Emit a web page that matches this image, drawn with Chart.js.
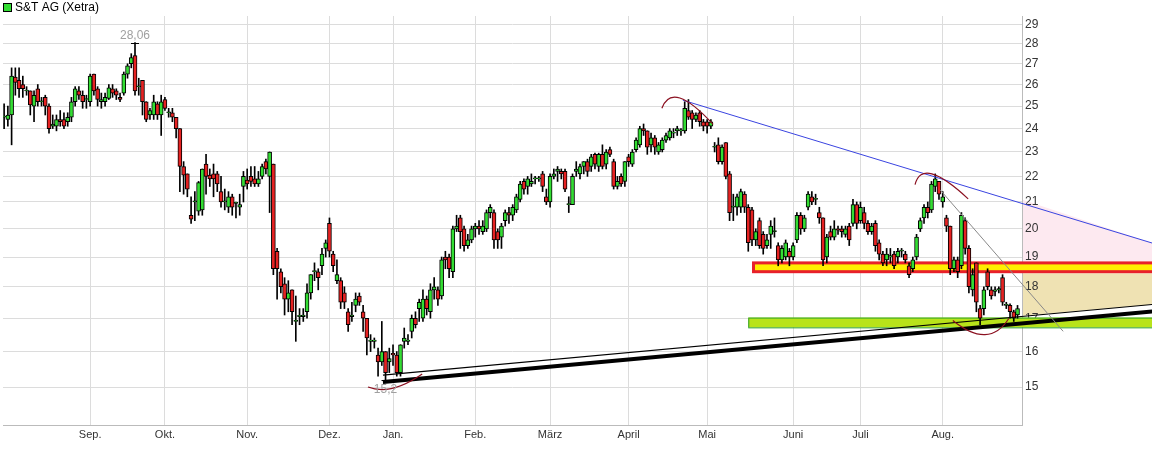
<!DOCTYPE html>
<html>
<head>
<meta charset="utf-8">
<script src="https://cdn.jsdelivr.net/npm/chart.js@4.4.1/dist/chart.umd.min.js"></script>
<style>
  html, body { margin: 0; padding: 0; background: #fff; }
  #wrap { width: 1152px; height: 462px; }
</style>
</head>
<body>
<div id="wrap"><canvas id="c"></canvas></div>
<script>
// ===== S&T AG (Xetra) daily candles =====

const opens = [
24.5,24.4,24.6,26.35,26.2,26.0,25.7,25.7,25.0,25.8,25.2,25.4,25.0,24.1,24.1,24.4,24.4,24.3,24.5,25.2,
25.7,25.5,25.3,25.2,26.5,25.8,25.2,25.2,25.35,25.8,25.7,25.4,25.6,26.5,27.0,27.4,25.9,26.2,25.2,24.6,
24.6,25.1,24.6,25.3,24.7,24.7,24.5,24.0,22.4,22.1,20.5,21.0,20.65,20.7,22.5,22.05,22.1,22.1,21.4,21.0,
20.8,21.2,20.95,20.8,21.6,21.85,22.0,21.9,21.7,22.0,22.6,22.0,22.5,19.2,18.5,18.1,17.6,17.9,16.9,17.05,
17.05,17.2,17.8,18.5,18.5,18.7,19.3,20.2,19.1,18.2,18.2,17.8,17.2,17.05,17.4,17.7,17.2,17.0,16.3,16.3,
15.9,15.7,16.0,15.7,15.95,15.9,15.4,16.3,16.3,16.6,17.0,17.3,17.0,17.6,17.2,17.9,17.9,17.7,19.0,19.0,
18.5,20.0,20.4,20.0,19.4,19.6,20.0,20.1,19.9,20.0,20.6,20.6,19.9,19.7,20.3,20.6,20.5,20.7,21.1,21.8,
21.6,21.7,21.9,21.9,22.1,21.2,21.0,22.0,22.2,22.2,22.2,20.9,20.9,22.2,22.1,22.4,22.6,22.4,22.9,22.4,
22.9,22.5,23.1,22.6,21.6,22.0,21.8,22.8,22.5,23.1,23.3,24.0,23.9,23.3,23.6,23.0,23.1,23.5,23.6,23.8,
23.9,23.9,23.9,24.8,24.7,24.4,24.7,24.3,24.3,24.1,23.2,23.3,22.6,23.4,22.1,20.8,20.8,20.8,21.3,20.8,
20.7,19.6,20.3,19.8,19.4,19.8,19.9,19.4,18.9,19.0,19.2,19.0,19.6,20.5,20.0,20.8,21.2,21.1,20.6,20.4,
19.0,19.9,19.7,20.0,20.0,19.8,20.1,20.2,20.9,20.3,20.6,20.2,19.9,20.2,19.5,19.1,18.9,19.0,19.1,19.0,
19.2,19.1,18.7,18.6,19.0,20.0,20.4,20.8,20.7,21.6,21.8,21.0,20.4,20.1,18.6,18.9,18.7,20.3,19.3,17.9,
18.8,17.3,17.3,18.5,17.9,17.85,17.9,18.3,17.4,17.4,17.2,17.1
];
const closes = [
24.5,24.6,26.4,26.1,25.8,25.8,25.7,25.05,25.5,25.2,25.2,25.0,24.0,24.2,24.4,24.3,24.1,24.5,25.2,25.8,
25.5,25.2,25.3,26.4,25.7,25.3,25.3,25.4,25.85,25.6,25.5,25.3,26.5,26.9,27.3,25.7,25.9,25.2,24.4,24.8,
25.2,24.6,25.2,24.9,24.7,24.5,24.0,22.4,22.05,21.5,20.35,21.0,21.75,22.3,22.0,21.9,21.9,21.7,21.0,21.0,
21.2,20.8,20.95,20.9,22.0,21.7,21.8,21.7,21.9,22.4,22.3,23.0,18.6,18.6,18.0,17.6,17.8,17.2,16.9,17.05,
17.1,17.8,18.4,18.5,18.3,19.1,19.5,19.2,18.7,18.4,17.5,17.5,16.8,17.1,17.6,17.5,17.0,16.4,16.3,16.3,
15.7,16.0,15.4,15.8,15.9,15.4,16.2,16.4,16.3,17.0,16.8,17.5,17.6,17.3,17.9,18.0,17.6,18.9,18.9,18.6,
20.0,20.1,19.9,19.4,19.6,20.0,20.1,20.0,20.1,20.6,20.8,19.6,19.6,20.1,20.6,20.5,20.8,21.2,21.7,21.5,
21.9,21.8,21.9,21.9,21.6,21.0,22.0,22.1,22.3,22.1,21.5,20.9,22.0,22.3,22.4,22.6,22.2,22.8,22.5,22.9,
22.4,23.0,22.9,21.6,21.8,21.7,22.6,22.6,23.0,23.5,24.0,23.9,23.2,23.6,23.2,23.3,23.5,23.7,23.9,23.8,
24.0,23.9,24.9,24.5,24.4,24.6,24.3,24.1,24.1,24.3,23.2,22.6,23.2,22.0,20.6,20.8,21.2,21.4,20.8,19.5,
19.6,19.9,19.4,19.3,19.6,20.1,19.9,18.9,19.3,19.5,19.0,19.4,20.5,20.0,20.4,21.3,21.0,21.1,20.4,18.9,
19.7,19.7,20.0,19.95,19.9,20.0,19.6,20.9,20.2,20.8,20.2,19.9,20.1,19.4,19.1,18.8,19.1,19.05,18.7,19.2,
19.2,18.9,18.4,18.9,19.7,20.3,20.8,20.6,21.7,21.9,21.3,21.2,20.1,18.6,18.9,18.5,20.5,19.3,18.0,18.4,
17.5,17.0,17.9,18.0,17.7,17.9,17.9,17.5,17.4,17.2,17.0,17.3
];
const highs = [
25.1,25.0,26.8,26.8,26.8,26.4,25.9,25.7,25.7,26.0,25.4,25.5,25.1,24.6,24.6,24.8,24.7,24.7,25.4,25.9,
25.9,25.7,25.5,26.5,26.5,25.9,25.6,25.6,26.0,26.0,25.8,25.6,26.6,27.0,27.5,28.06,26.3,26.2,25.2,24.9,
25.5,25.2,25.5,25.4,24.9,24.9,24.5,24.0,22.6,22.1,21.2,21.4,21.8,22.3,22.9,22.3,22.5,22.2,22.0,21.5,
21.4,21.3,21.0,21.3,22.2,22.3,22.4,22.4,22.2,22.5,22.7,23.0,22.5,19.3,18.6,18.3,18.2,17.9,17.7,17.3,
17.3,18.1,18.4,18.8,18.6,19.3,19.6,20.4,19.2,18.9,18.3,18.0,17.3,17.5,17.8,17.8,17.4,17.0,16.5,16.4,
16.1,16.9,16.0,16.1,16.2,16.0,16.2,16.7,16.5,17.1,17.2,17.6,17.9,17.7,18.1,18.3,18.0,19.0,19.2,19.1,
20.1,20.5,20.5,20.1,19.8,20.1,20.2,20.3,20.3,20.7,20.9,20.7,20.0,20.2,20.7,20.8,20.9,21.3,21.8,21.9,
22.0,22.1,22.0,22.0,22.2,21.5,22.1,22.3,22.4,22.3,22.3,21.2,22.1,22.6,22.5,22.6,22.7,22.9,22.95,22.95,
23.3,23.1,23.2,22.7,22.0,22.1,22.6,22.9,23.1,23.6,24.1,24.2,23.9,23.8,23.7,23.4,23.6,23.8,24.0,24.0,
24.1,24.0,25.2,25.3,24.8,24.7,24.8,24.4,24.4,24.4,23.4,23.6,23.3,23.4,22.2,21.3,21.3,21.5,21.4,20.9,
20.8,20.0,20.4,19.9,19.8,20.3,20.4,19.5,19.4,19.6,19.3,19.5,20.6,20.6,20.5,21.4,21.4,21.3,20.8,20.4,
19.8,20.1,20.3,20.1,20.1,20.1,20.2,21.1,21.0,21.0,20.8,20.3,20.2,20.3,19.6,19.2,19.3,19.3,19.2,19.3,
19.3,19.2,18.8,19.0,19.8,20.4,20.9,21.0,21.8,22.1,21.8,21.4,20.5,20.1,19.0,19.0,20.6,20.4,19.4,18.6,
18.8,17.4,18.0,18.6,18.0,18.0,18.0,18.4,17.5,17.45,17.25,17.4
];
const lows = [
24.0,24.1,23.3,25.5,25.4,25.4,25.5,24.6,24.3,25.0,25.0,24.6,23.8,24.0,23.9,24.1,24.0,24.1,24.3,25.0,
25.3,24.9,24.9,25.0,25.5,25.0,24.9,25.0,25.3,25.4,25.3,25.2,25.5,26.3,26.8,25.5,25.5,24.6,24.3,24.4,
24.4,24.4,23.7,24.8,24.5,24.3,23.6,21.4,21.3,21.2,20.2,20.3,20.5,20.5,21.3,21.6,21.2,21.4,20.8,20.7,
20.6,20.5,20.4,20.5,21.0,21.5,21.6,21.6,21.6,21.9,22.1,20.6,18.4,17.6,17.8,17.1,17.2,16.8,16.3,16.8,
16.9,17.0,17.6,18.2,17.9,18.4,19.0,19.0,18.5,18.1,17.3,17.3,16.6,16.9,17.2,17.4,16.6,15.9,16.0,16.1,
15.3,15.6,15.2,15.4,15.6,15.3,15.3,16.1,16.2,16.4,16.7,16.9,16.9,17.1,17.0,17.6,17.4,17.6,18.6,18.3,
18.3,19.9,19.3,19.2,19.3,19.5,19.7,19.8,19.8,19.9,20.4,19.3,19.3,19.3,20.1,20.2,20.3,20.6,21.0,21.3,
21.3,21.6,21.7,21.8,21.4,20.9,20.8,21.9,21.8,21.9,21.4,20.6,20.9,22.0,21.9,22.1,22.0,22.2,22.3,22.2,
22.3,22.3,22.8,21.5,21.5,21.6,21.6,22.4,22.4,23.0,23.2,23.7,22.9,23.0,22.9,22.9,23.0,23.4,23.5,23.6,
23.7,23.7,23.8,24.4,24.0,24.3,24.1,23.9,23.8,24.0,23.0,22.5,22.5,21.9,20.3,20.3,20.5,20.6,20.6,19.2,
19.4,19.4,19.3,19.1,19.3,19.3,19.7,18.7,18.8,18.9,18.7,18.9,19.5,19.8,19.9,20.7,20.9,20.9,20.2,18.7,
18.8,19.6,19.6,19.8,19.7,19.7,19.4,20.1,20.0,20.2,20.0,19.8,19.8,19.2,18.9,18.7,18.7,18.8,18.6,18.8,
19.0,18.8,18.3,18.5,18.9,19.9,20.2,20.4,20.6,21.4,21.1,20.8,19.9,18.4,18.5,18.3,18.6,19.1,17.8,17.7,
17.2,16.8,17.1,17.9,17.6,17.7,17.8,17.4,17.3,17.0,16.9,17.0
];

// month labels at the first trading day (candle index)
const monthLabels = ['Sep.', 'Okt.', 'Nov.', 'Dez.', 'Jan.', 'Feb.', 'März', 'April', 'Mai', 'Juni', 'Juli', 'Aug.'];
const monthIndex = [23, 43, 65, 87, 104, 126, 146, 167, 188, 211, 229, 251];
const priceTicks = [15, 16, 17, 18, 19, 20, 21, 22, 23, 24, 25, 26, 27, 28, 29];

// analysis drawings: [candle index, price]
const resistLine = [[181.5, 25.27], [307, 19.49]];
const supportThin = [[101.3, 15.33], [307, 17.43]];
const supportThick = [[101.3, 15.14], [307, 17.21]];
const grayLine = [[250.3, 21.47], [283.2, 16.6]];
const redBand = [200, 307, 18.45, 18.85];
const greenBand = [199, 307, 16.72, 17.02];
const arcs = [
  [[175.9, 24.9], [180.7, 25.37], [189.6, 24.18]],
  [[243.6, 21.67], [248.1, 22.1], [257.8, 21.12]],
  [[253.7, 16.93], [262.3, 16.5], [268.7, 17.0]],
  [[97.3, 15.0], [104, 14.97], [111.8, 15.36]]
];
const highMark = [35, 28.06, '28,06'];
const lowMark = [102, 15.2, '15,2'];

const GREEN = '#33dd33';
const RED = '#e62222';
const FONT = 'Arial, "Liberation Sans", sans-serif';

const bodies = opens.map((o, i) => {
  let c = closes[i];
  if (Math.abs(c - o) < 0.04) c = o + 0.04;
  return { x: i, y: [o, c] };
});
const wicks = opens.map((o, i) => ({ x: i, y: [lows[i], highs[i]] }));
const bodyColors = opens.map((o, i) => closes[i] >= o ? GREEN : RED);

const lineAt = (ln, xv) => {
  const [a, b] = ln;
  const t = (xv - a[0]) / (b[0] - a[0]);
  return a[1] + t * (b[1] - a[1]);
};

// drawings plugin
const drawingsPlugin = {
  id: 'drawings',
  beforeDraw(chart) {
    const { ctx, scales: { x, y }, chartArea } = chart;
    const px = v => x.getPixelForValue(v);
    const py = v => y.getPixelForValue(v);
    const endX = chartArea.right;
    const farX = px(307);
    const xEnd = x.getValueForPixel(endX);
    ctx.save();
    // legend
    ctx.fillStyle = GREEN;
    ctx.fillRect(3.5, 3.5, 8, 8);
    ctx.strokeStyle = '#000';
    ctx.lineWidth = 1;
    ctx.strokeRect(3.5, 3.5, 8, 8);
    ctx.fillStyle = '#000';
    ctx.font = '12px ' + FONT;
    ctx.textBaseline = 'middle';
    ctx.fillText('S&T AG (Xetra)', 15, 8);
    // pink zone between resistance and red band
    ctx.fillStyle = '#fde9f0';
    ctx.beginPath();
    ctx.moveTo(endX, py(lineAt(resistLine, xEnd)));
    ctx.lineTo(farX, py(lineAt(resistLine, 307)));
    ctx.lineTo(farX, py(redBand[3]));
    ctx.lineTo(endX, py(redBand[3]));
    ctx.fill();
    // tan zone between red band and support
    ctx.fillStyle = '#efe2b3';
    ctx.beginPath();
    ctx.moveTo(endX, py(redBand[2]));
    ctx.lineTo(farX, py(redBand[2]));
    ctx.lineTo(farX, py(lineAt(supportThin, 307)));
    ctx.lineTo(endX, py(lineAt(supportThin, xEnd)));
    ctx.fill();
    ctx.restore();
  },
  beforeDatasetsDraw(chart) {
    const { ctx, scales: { x, y } } = chart;
    const px = v => x.getPixelForValue(v);
    const py = v => y.getPixelForValue(v);
    const farX = px(307);
    ctx.save();
    // green band
    ctx.fillStyle = '#b8e31a';
    ctx.strokeStyle = '#2ca02c';
    ctx.lineWidth = 1;
    const gx = px(greenBand[0]), gy = py(greenBand[3]);
    ctx.fillRect(gx, gy, farX - gx, py(greenBand[2]) - gy);
    ctx.strokeRect(gx + 0.5, gy + 0.5, farX - gx, py(greenBand[2]) - gy);
    // red/yellow band
    const rx = px(redBand[0]), ry = py(redBand[3]);
    ctx.fillStyle = '#e8202a';
    ctx.fillRect(rx, ry, farX - rx, py(redBand[2]) - ry);
    ctx.fillStyle = '#ffee00';
    ctx.fillRect(rx + 3, ry + 3, farX - rx - 3, py(redBand[2]) - ry - 6);
    ctx.restore();
  },
  afterDatasetsDraw(chart) {
    const { ctx, scales: { x, y } } = chart;
    const px = v => x.getPixelForValue(v);
    const py = v => y.getPixelForValue(v);
    const seg = (ln, color, w) => {
      ctx.strokeStyle = color;
      ctx.lineWidth = w;
      ctx.beginPath();
      ctx.moveTo(px(ln[0][0]), py(ln[0][1]));
      ctx.lineTo(px(ln[1][0]), py(ln[1][1]));
      ctx.stroke();
    };
    ctx.save();
    seg(resistLine, '#3a44e0', 1);
    seg(supportThin, '#000', 1.2);
    seg(supportThick, '#000', 4);
    seg(grayLine, '#888', 1);
    // arcs through three points
    ctx.strokeStyle = '#8b1020';
    ctx.lineWidth = 1.2;
    arcs.forEach(a => {
      const p = a.map(q => [px(q[0]), py(q[1])]);
      const cx = 2 * p[1][0] - (p[0][0] + p[2][0]) / 2;
      const cy = 2 * p[1][1] - (p[0][1] + p[2][1]) / 2;
      ctx.beginPath();
      ctx.moveTo(p[0][0], p[0][1]);
      ctx.quadraticCurveTo(cx, cy, p[2][0], p[2][1]);
      ctx.stroke();
    });
    // high / low markers
    ctx.strokeStyle = '#000';
    ctx.lineWidth = 1;
    ctx.fillStyle = '#a0a0a0';
    ctx.font = '12px ' + FONT;
    ctx.textAlign = 'center';
    const hx = px(highMark[0]), hy = Math.round(py(highMark[1])) + 0.5;
    ctx.beginPath(); ctx.moveTo(hx - 4, hy); ctx.lineTo(hx + 4, hy); ctx.stroke();
    ctx.textBaseline = 'bottom';
    ctx.fillText(highMark[2], hx, hy - 2);
    const lx = px(lowMark[0]), ly = Math.round(py(lowMark[1])) + 0.5;
    ctx.beginPath(); ctx.moveTo(lx - 4, ly); ctx.lineTo(lx + 4, ly); ctx.stroke();
    ctx.textBaseline = 'top';
    ctx.fillText(lowMark[2], lx, ly + 3);
    ctx.restore();
  }
};

new Chart(document.getElementById('c'), {
  type: 'bar',
  data: {
    datasets: [
      {
        data: wicks,
        backgroundColor: '#000',
        barThickness: 1,
        grouped: false,
        order: 2
      },
      {
        data: bodies,
        backgroundColor: bodyColors,
        borderColor: '#000',
        borderWidth: 1,
        borderSkipped: false,
        barThickness: 4,
        grouped: false,
        order: 1
      }
    ]
  },
  options: {
    responsive: true,
    maintainAspectRatio: false,
    animation: false,
    layout: { padding: { left: 3, top: 16, right: 0, bottom: 0 } },
    plugins: {
      tooltip: { enabled: false },
      legend: { display: false }
    },
    scales: {
      x: {
        type: 'linear',
        min: -0.3,
        max: 272.2,
        offset: false,
        afterBuildTicks: s => { s.ticks = monthIndex.map(v => ({ value: v })); },
        afterFit: s => { s.height = 37; },
        ticks: {
          autoSkip: false,
          maxRotation: 0,
          color: '#333',
          padding: 3,
          font: { family: FONT, size: 11 },
          callback: (v) => monthLabels[monthIndex.indexOf(v)]
        },
        grid: { color: '#dcdcdc', drawTicks: false, offset: false },
        border: { color: '#bbb' }
      },
      y: {
        type: 'logarithmic',
        position: 'right',
        min: 14,
        max: 29.45,
        afterBuildTicks: s => { s.ticks = priceTicks.map(v => ({ value: v })); },
        afterFit: s => { s.width = 130; },
        ticks: {
          color: '#333',
          padding: 3,
          font: { family: FONT, size: 12 },
          callback: v => String(v)
        },
        grid: { color: '#dcdcdc', drawTicks: false },
        border: { color: '#bbb' }
      }
    }
  },
  plugins: [drawingsPlugin]
});
</script>
</body>
</html>
